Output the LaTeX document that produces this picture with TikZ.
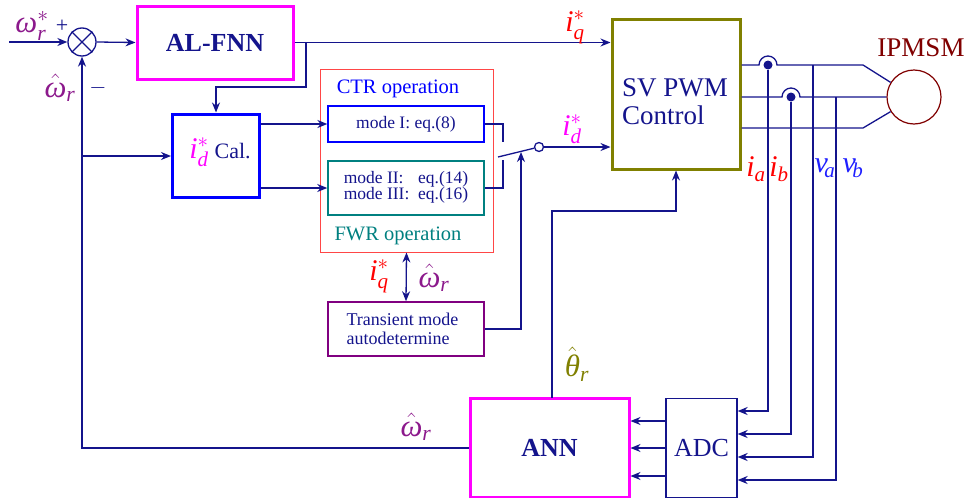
\documentclass[tikz,border=0pt]{standalone}
\usepackage{fix-cm}
\usepackage{amsmath}
\usepackage{fontspec}
\setmainfont{Liberation Serif}
\usetikzlibrary{arrows.meta,calc}
\definecolor{navy}{RGB}{20,20,140}
\definecolor{magen}{RGB}{255,0,255}
\definecolor{bblue}{RGB}{0,0,255}
\definecolor{oliv}{RGB}{128,128,0}
\definecolor{lred}{RGB}{255,70,70}
\definecolor{teal2}{RGB}{0,128,128}
\definecolor{purp}{RGB}{128,0,128}
\definecolor{omc}{RGB}{140,25,140}
\definecolor{dred}{RGB}{128,0,0}
\definecolor{vblue}{RGB}{30,30,255}
\newcommand\tv[1]{\text{\itshape #1}}
\newcommand\lblsz{\fontsize{31}{34}\selectfont}
\newcommand\isz{\fontsize{30}{33}\selectfont}
\begin{document}
\begin{tikzpicture}[x=1pt,y=-1pt,
  >={Stealth[length=10pt,width=8pt]},
  conn/.style={draw=navy,line width=1.3pt},
  thickbox/.style={draw,line width=3pt,inner sep=0pt},
  thinbox/.style={draw,line width=1.3pt,inner sep=0pt},
  lbl/.style={inner sep=0pt,font=\lblsz},
  ilbl/.style={inner sep=0pt,font=\isz},
  dot/.style={circle,fill=navy,inner sep=0pt,minimum size=9pt},
]
\useasboundingbox (0,0) rectangle (967,498);
% blocks
\node[circle,draw=navy,line width=1.3pt,minimum size=28pt,inner sep=0pt] (sum) at (82,42) {};
\draw[navy,line width=1.3pt] (sum.north east) -- (sum.south west) (sum.north west) -- (sum.south east);
\node[thickbox,draw=magen,minimum width=156pt,minimum height=73pt,text=navy,font=\fontsize{26}{30}\selectfont\bfseries] (alfnn) at (215,42.5) {AL-FNN};
\node[thickbox,draw=bblue,minimum width=87pt,minimum height=83pt] (idcal) at (216,155.5) {};
\node[inner sep=0pt] (idcaltxt) at (220,152) {\textcolor{magen}{\isz$\tv{i}_{\tv{d}}^{*}$}\hspace{6pt}\textcolor{navy}{\fontsize{22}{24}\selectfont Cal.}};
\node[draw=lred,line width=1pt,minimum width=173pt,minimum height=183pt,inner sep=0pt] (redbox) at (406.5,160.5) {};
\node[text=bblue,font=\fontsize{20.5}{24}\selectfont,inner sep=0pt] (ctr) at (398,89) {CTR operation};
\node[text=teal2,font=\fontsize{20.5}{24}\selectfont,inner sep=0pt] (fwr) at (398,236) {FWR operation};
\node[thinbox,draw=bblue,minimum width=156pt,minimum height=36pt,text=navy,font=\fontsize{17.5}{20}\selectfont] (m1) at (406,124) {mode I: eq.(8)};
\node[thinbox,draw=teal2,line width=1.5pt,minimum width=156pt,minimum height=54pt,text=navy,font=\fontsize{17.5}{19}\selectfont] (m2) at (406,188) {\begin{tabular}{@{}l@{\ \ }l@{}}mode II: & eq.(14)\\[-3pt] mode III: & eq.(16)\end{tabular}};
\node[thinbox,draw=purp,line width=1.5pt,minimum width=156pt,minimum height=54pt,text=navy,font=\fontsize{18}{19}\selectfont,align=left] (trans) at (406,329) {Transient mode\\autodetermine\phantom{ee}};
\node[thickbox,draw=oliv,minimum width=128pt,minimum height=150pt] (svpwm) at (676,94) {};
\node[text=navy,font=\fontsize{27}{28}\selectfont,align=left,inner sep=0pt,anchor=west] (svtxt) at (622,102) {SV PWM\\Control};
\node[circle,draw=dred,line width=1.2pt,minimum size=54pt,inner sep=0pt] (motor) at (914,97) {};
\node[text=dred,font=\fontsize{27}{30}\selectfont,inner sep=0pt] (ipmsm) at (921,48) {IPMSM};
\node[thinbox,draw=navy,minimum width=71pt,minimum height=99pt,text=navy,font=\fontsize{26}{30}\selectfont] (adc) at (701.5,448) {ADC};
\node[thickbox,draw=magen,minimum width=159pt,minimum height=99pt,text=navy,font=\fontsize{26}{30}\selectfont\bfseries] (ann) at (549.5,448) {ANN};
\node[circle,draw=navy,fill=white,line width=1.3pt,minimum size=9pt,inner sep=0pt] (sw) at (539,147) {};
% connectors
\coordinate (in) at (9,42);
\draw[conn,->] (in) -- (sum.west);
\draw[conn,->] (sum.east) -- (alfnn.west);
\draw[conn,->] (alfnn.east) -- (svpwm.west |- alfnn.east);
\coordinate (b1) at (306,42.5);
\draw[conn,->] (b1) -- (306,87) -| (idcal.north);
\draw[conn,->] (ann.west) -| (sum.south);
\coordinate (b2) at (82,156);
\draw[conn,->] (b2) -- (idcal.west |- b2);
\draw[conn,->] (idcal.east |- m1.west) -- (m1.west);
\draw[conn,->] (idcal.east |- m2.west) -- (m2.west);
\draw[conn] (m1.east) -- (503,124) -- (503,142);
\draw[conn] (m2.east) -- (503,188) -- (503,160);
\coordinate (blade) at (498,157);
\draw[conn] (blade) -- (sw);
\draw[conn,->] (sw.east) -- (svpwm.west |- sw.east);
\draw[conn,->] (trans.east) -- (521,329) -- (521,152);
\draw[conn,<->] (trans.north) -- (redbox.south);
\coordinate (annTop) at (552,398);
\draw[conn,->] (annTop) -- (552,211) -| (svpwm.south);
\foreach \yy in {421,448,476} \draw[conn,->] (adc.west |- 0,\yy) -- (ann.east |- 0,\yy);
% motor lines
\draw[conn] (svpwm.east |- 0,65) -- (759,65) arc[start angle=180,end angle=360,radius=9] -- (863,65) -- (motor.148);
\draw[conn] (svpwm.east |- 0,97) -- (782,97) arc[start angle=180,end angle=360,radius=9] -- (motor.west);
\draw[conn] (svpwm.east |- 0,128) -- (863,128) -- (motor.212);
\node[dot] (ia) at (768,65) {};
\node[dot] (ib) at (791,97) {};
\coordinate (va) at (813,65);
\coordinate (vb) at (836,97);
\draw[conn,->] (ia) |- (adc.east |- 0,411);
\draw[conn,->] (ib) |- (adc.east |- 0,434);
\draw[conn,->] (va) |- (adc.east |- 0,457);
\draw[conn,->] (vb) |- (adc.east |- 0,480);
% labels
\node[lbl,text=omc] (l1) at (32,26) {$\tv{ω}_{\tv{r}}^{*}$};
\node[lbl,text=navy,font=\fontsize{22}{22}\selectfont] (lp) at (62,26) {+};
\node[lbl,text=omc] (l2) at (60,88) {$\hat{\tv{ω}}_{\tv{r}}$};
\node[lbl,text=navy,font=\fontsize{22}{22}\selectfont] (lm) at (98,88) {$-$};
\node[ilbl,text=red] (l3) at (575,27) {$\tv{i}_{\tv{q}}^{*}$};
\node[ilbl,text=magen] (l4) at (572,129) {$\tv{i}_{\tv{d}}^{*}$};
\node[ilbl,text=red] (l5) at (379,276) {$\tv{i}_{\tv{q}}^{*}$};
\node[lbl,text=omc] (l6) at (434,278) {$\hat{\tv{ω}}_{\tv{r}}$};
\node[lbl,text=oliv] (l7) at (577,364) {$\hat{\tv{θ}}_{\tv{r}}$};
\node[lbl,text=omc] (l8) at (416,427) {$\hat{\tv{ω}}_{\tv{r}}$};
\node[ilbl,text=red] (l9) at (756,169) {$\tv{i}_{\tv{a}}$};
\node[ilbl,text=red] (l10) at (779,169) {$\tv{i}_{\tv{b}}$};
\node[ilbl,text=vblue] (l11) at (825,168) {$\tv{v}_{\!\tv{a}}$};
\node[ilbl,text=vblue] (l12) at (853,168) {$\tv{v}_{\!\tv{b}}$};
\end{tikzpicture}
\end{document}
